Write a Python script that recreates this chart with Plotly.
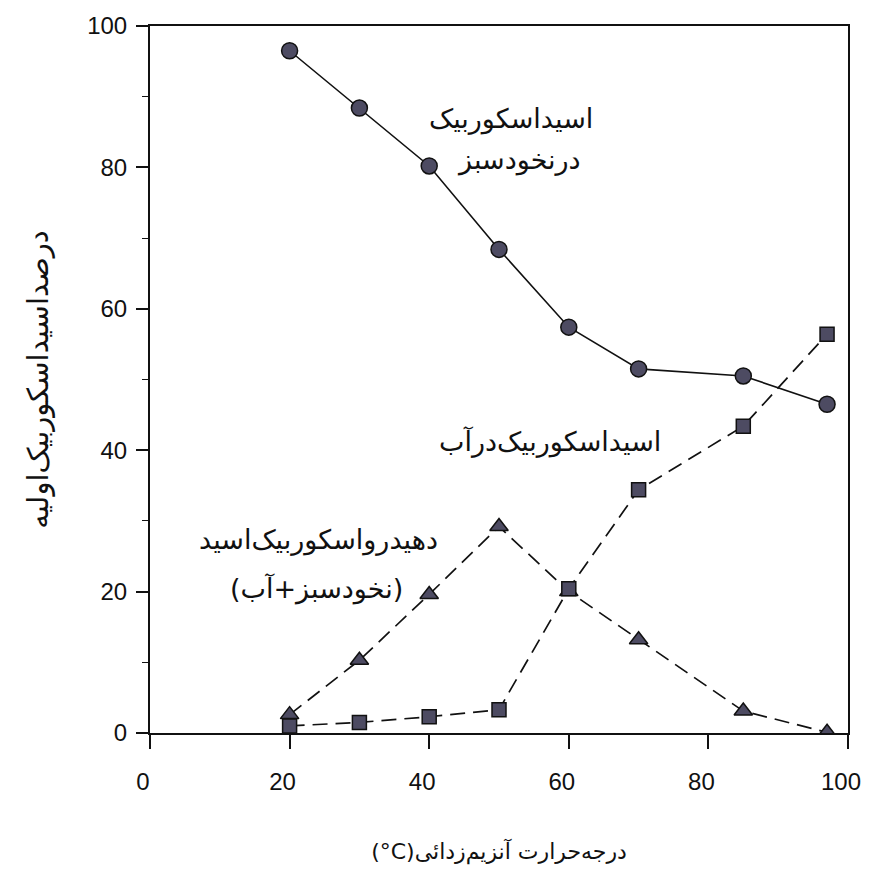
import plotly.graph_objects as go

# Temperature of enzyme inactivation (°C)
temp = [20, 30, 40, 50, 60, 70, 85, 97]

# Ascorbic acid in green peas (%)
aa_peas = [96.5, 88.4, 80.2, 68.4, 57.4, 51.5, 50.5, 46.5]
# Ascorbic acid in water (%)
aa_water = [1.0, 1.5, 2.3, 3.3, 20.4, 34.4, 43.4, 56.4]
# Dehydroascorbic acid (peas + water) (%)
dha = [2.6, 10.3, 19.6, 29.2, 20.0, 13.2, 3.1, 0.1]

x_ticks = [0, 20, 40, 60, 80, 100]
y_ticks = [0, 20, 40, 60, 80, 100]

MARK_FILL = "#4d4b62"
PERSIAN_FONT = "DejaVu Sans"
NUM_FONT = "Liberation Sans"

fig = go.Figure()

fig.add_trace(go.Scatter(
    x=temp, y=dha, mode="lines+markers",
    line=dict(color="#111", width=1.7, dash="15px,8px"),
    marker=dict(symbol="triangle-up", size=16, color=MARK_FILL,
                line=dict(color="#111", width=1.5)),
    showlegend=False))

fig.add_trace(go.Scatter(
    x=temp, y=aa_water, mode="lines+markers",
    line=dict(color="#111", width=1.7, dash="15px,8px"),
    marker=dict(symbol="square", size=14, color=MARK_FILL,
                line=dict(color="#111", width=1.5)),
    showlegend=False))

fig.add_trace(go.Scatter(
    x=temp, y=aa_peas, mode="lines+markers",
    line=dict(color="#111", width=1.6),
    marker=dict(symbol="circle", size=16, color=MARK_FILL,
                line=dict(color="#111", width=1.5)),
    showlegend=False))

ann_font = dict(family=PERSIAN_FONT, size=27, color="#111")
annotations = [
    dict(x=51.7, y=86.8, text="اسیداسکوربیک"),
    dict(x=52.8, y=81.0, text="درنخودسبز"),
    dict(x=57.3, y=41.2, text="اسیداسکوربیک‌درآب"),
    dict(x=24.1, y=27.3, text="دهیدرواسکوربیک‌اسید"),
    dict(x=23.9, y=20.4, text="(نخودسبز+آب)"),
]
for a in annotations:
    a.update(xref="x", yref="y", showarrow=False, font=ann_font,
             xanchor="center", yanchor="middle")

fig.update_layout(
    width=854, height=861,
    margin=dict(l=142, r=14, t=18, b=136),
    paper_bgcolor="white", plot_bgcolor="white",
    annotations=annotations,
    xaxis=dict(
        range=[0, 100], tickvals=x_ticks, ticktext=[str(v) for v in x_ticks],
        automargin=False,
        ticks="outside", ticklen=14, tickwidth=1.6, tickcolor="#111",
        ticklabelstandoff=12, ticklabelshift=-7, ticklabeloverflow="allow",
        showline=True, linecolor="#111", linewidth=2, mirror=True,
        showgrid=False, zeroline=False,
        tickfont=dict(family=NUM_FONT, size=24, color="#111"),
        title=dict(text="(°C)درجه‌حرارت آنزیم‌زدائی",
                   font=dict(family=PERSIAN_FONT, size=22, color="#111"),
                   standoff=50),
    ),
    yaxis=dict(
        range=[0, 100], tickvals=y_ticks, ticktext=[str(v) for v in y_ticks],
        automargin=False,
        ticks="outside", ticklen=12, tickwidth=1.6, tickcolor="#111",
        ticklabelstandoff=4, ticklabeloverflow="allow",
        minor=dict(dtick=10, ticks="outside", ticklen=6, tickcolor="#111", tickwidth=1.4),
        showline=True, linecolor="#111", linewidth=2, mirror=True,
        showgrid=False, zeroline=False,
        tickfont=dict(family=NUM_FONT, size=24, color="#111"),
        title=dict(text="درصداسیداسکوربیک‌اولیه",
                   font=dict(family=PERSIAN_FONT, size=29, color="#111"),
                   standoff=30),
    ),
)

fig.write_html("out.html")
